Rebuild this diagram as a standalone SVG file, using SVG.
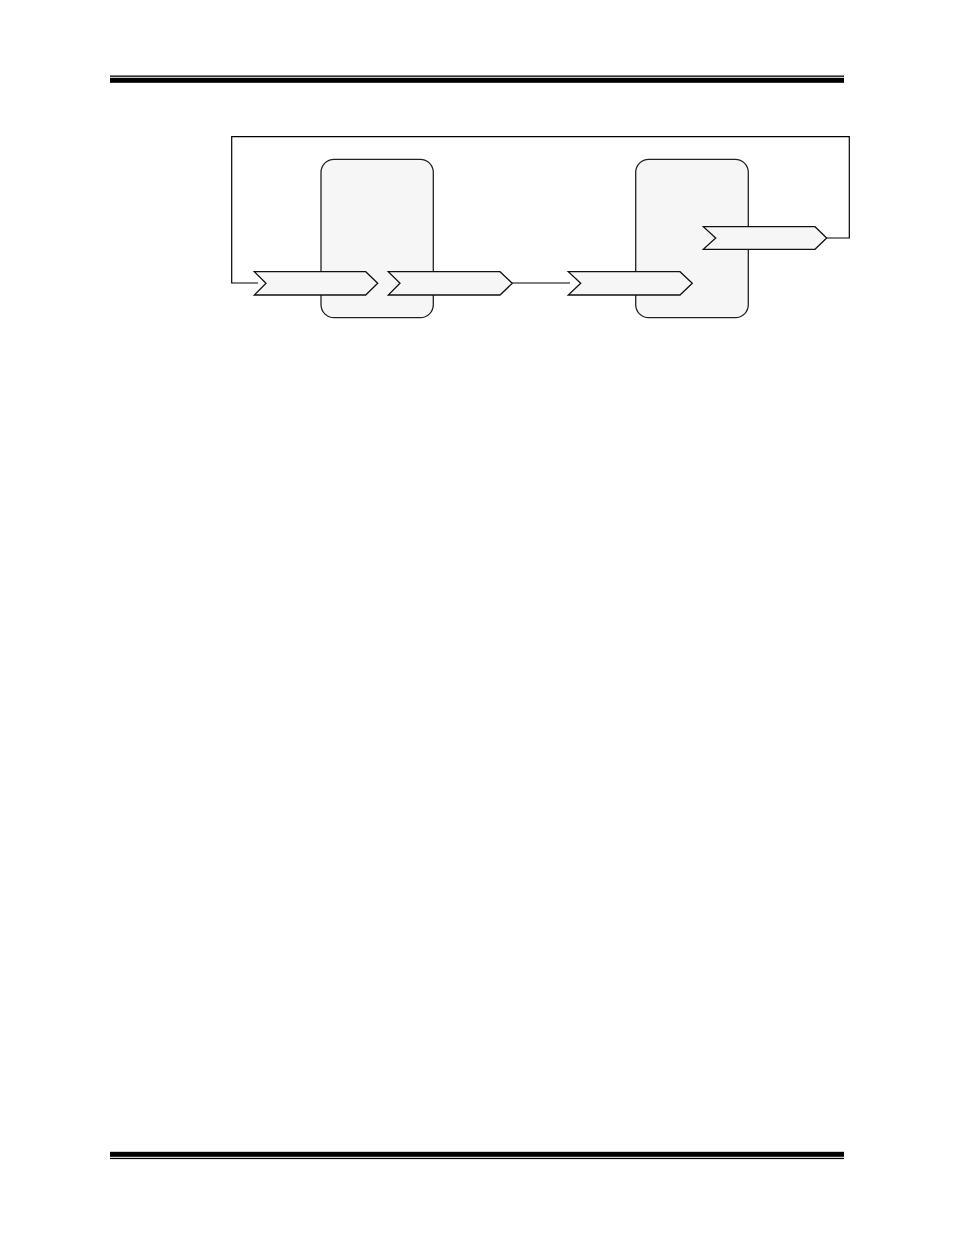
<svg xmlns="http://www.w3.org/2000/svg" width="954" height="1235" viewBox="0 0 954 1235">
<style>
.box{fill:#f6f6f6;stroke:#222;stroke-width:1.3}
.chev{fill:#f6f6f6;stroke:#111;stroke-width:1.3;stroke-linejoin:miter}
.wire{fill:none;stroke:#000;stroke-width:1.2}
.rule{fill:#000}
</style>
<rect width="954" height="1235" fill="#fff"/>
<g id="header">
<rect class="rule" x="110" y="75.5" width="734" height="1.3"/>
<rect class="rule" x="110" y="77.8" width="734" height="5"/>
</g>
<g id="footer">
<rect class="rule" x="110" y="1151.8" width="734" height="5"/>
<rect class="rule" x="110" y="1157.8" width="734" height="1.3"/>
</g>
<g id="connectors">
<polyline class="wire" points="258,283 231.7,283 231.7,136.7 849.3,136.7 849.3,238 826.7,238"/>
<line class="wire" x1="512.3" y1="283" x2="570" y2="283"/>
</g>
<g id="block1">
<rect class="box" x="321" y="159.3" width="112.3" height="158.4" rx="13" ry="13"/>
</g>
<g id="block2">
<rect class="box" x="635.7" y="159.3" width="112.6" height="158.4" rx="13" ry="13"/>
</g>
<g id="port1">
<polygon class="chev" points="254.3,271.7 365.7,271.7 377.7,283.3 365.7,295 254.3,295 266,283.3"/>
</g>
<g id="port2">
<polygon class="chev" points="388.3,271.7 500,271.7 512.3,283.3 500,295 388.3,295 400,283.3"/>
</g>
<g id="port3">
<polygon class="chev" points="568.3,271.7 680,271.7 692.3,283.3 680,295 568.3,295 580.7,283.3"/>
</g>
<g id="port4">
<polygon class="chev" points="703.3,226.7 815,226.7 826.7,238 815,249.3 703.3,249.3 715.7,238"/>
</g>
</svg>
